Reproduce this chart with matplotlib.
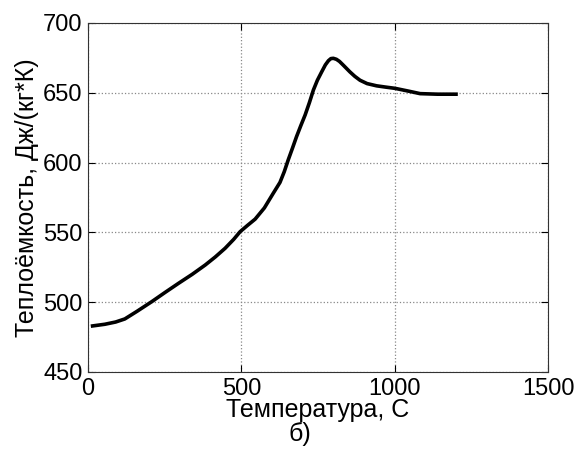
import numpy as np
import matplotlib.pyplot as plt

plt.rcParams['font.family'] = ['Liberation Sans', 'DejaVu Sans']

# Temperature, C
temp = [15, 55, 90, 120, 160, 208, 250, 295, 340, 382, 415, 447, 475, 496,
        520, 545, 575, 604, 626, 640, 653, 667, 680, 694, 708, 722, 735, 748,
        762, 774, 784, 792, 800, 810, 820, 832, 854, 870, 887, 910, 941, 970,
        1001, 1045, 1083, 1140, 1200]
# Heat capacity, J/(kg*K)
cp = [483, 484.2, 485.8, 488, 493.5, 500.4, 506.8, 513.5, 520, 526.6, 532.4,
      538.6, 545, 550.5, 555, 559.5, 567.5, 578, 585.8, 593.5, 602, 610.5,
      618.6, 626.5, 634.1, 643, 652, 659, 665, 670, 673, 674.5, 674.7, 674,
      672.5, 669.9, 665, 661.8, 659, 656.6, 655, 654.1, 653.2, 651.2, 649.4,
      649, 649]

xticks = [0, 500, 1000, 1500]
yticks = [450, 500, 550, 600, 650, 700]

fig = plt.figure(figsize=(5.78, 4.55), dpi=100)
ax = fig.add_axes([88 / 578, 1 - 372 / 455, 460 / 578, 349 / 455])

ax.plot(temp, cp, color='black', linewidth=2.6, solid_joinstyle='round')

ax.set_xlim(0, 1500)
ax.set_ylim(450, 700)
ax.set_xticks(xticks)
ax.set_yticks(yticks)
ax.grid(True, linestyle=':', color='#888888', linewidth=0.9)
ax.tick_params(direction='in', top=True, right=True, labelsize=17, length=5)
ax.tick_params(axis='x', pad=4)
ax.tick_params(axis='y', pad=4)
for s in ax.spines.values():
    s.set_color('#333333')

ax.set_xlabel('Температура, С', fontsize=18, labelpad=-1)
ax.set_ylabel('Теплоёмкость, Дж/(кг*К)', fontsize=18, labelpad=3)
fig.text(300 / 578, 1 - 434 / 455, 'б)', fontsize=18, ha='center', va='center')

fig.savefig('out.png', dpi=100)
